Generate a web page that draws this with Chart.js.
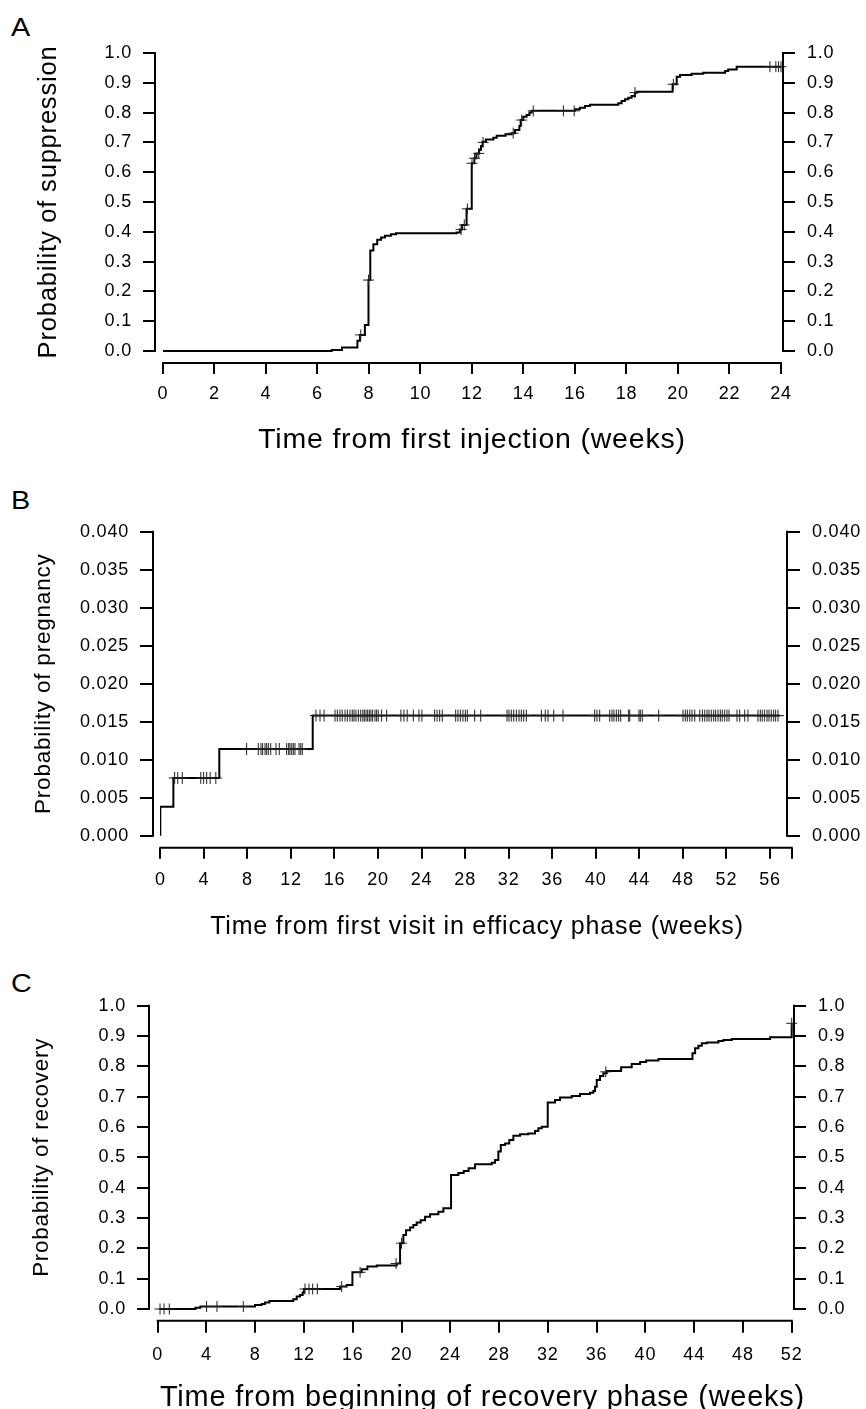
<!DOCTYPE html>
<html><head><meta charset="utf-8">
<script src="https://cdn.jsdelivr.net/npm/chart.js@4.4.1/dist/chart.umd.min.js"></script>
<style>
html,body{margin:0;padding:0;background:#fff;}
body{width:866px;height:1409px;overflow:hidden;position:relative;}
canvas{position:absolute;left:0;display:block;}
.lbl{position:absolute;left:11px;font:25px/1 'Liberation Sans',Arial,sans-serif;color:#000;transform:scaleX(1.15);transform-origin:0 0;}
</style></head><body>
<div class="lbl" style="top:15px">A</div>
<div class="lbl" style="top:488px">B</div>
<div class="lbl" style="top:971px">C</div>
<canvas id="cA" width="866" height="470" style="top:0px"></canvas>
<canvas id="cB" width="866" height="470" style="top:470px"></canvas>
<canvas id="cC" width="866" height="500" style="top:940px"></canvas>
<script>
const FONT = "'Liberation Sans', Arial, Helvetica, sans-serif";

// ---------------- Panel A : probability of suppression ----------------
const timesA = [0, 6.55, 6.95, 7.55, 7.65, 7.84, 7.98, 8.05, 8.17, 8.32, 8.47, 8.62, 8.85, 9.05,
  11.40, 11.53, 11.61, 11.79, 11.99, 12.09, 12.17, 12.28, 12.35, 12.41, 12.54, 12.83, 12.96, 13.3,
  13.54, 13.67, 13.84, 13.89, 13.99, 14.12, 14.23, 14.32, 16.0, 16.19, 16.39, 16.58, 17.68, 17.81,
  17.94, 18.07, 18.2, 18.33, 18.4, 19.79, 19.95, 20.08, 20.53, 20.98, 21.83, 21.95, 22.28, 24.0];
const probA = [0, 0.003, 0.012, 0.034, 0.054, 0.087, 0.238, 0.337, 0.358, 0.373, 0.381, 0.387, 0.392, 0.395,
  0.398, 0.408, 0.423, 0.477, 0.63, 0.647, 0.663, 0.675, 0.688, 0.702, 0.71, 0.716, 0.722, 0.727,
  0.731, 0.742, 0.755, 0.775, 0.786, 0.792, 0.80, 0.806, 0.811, 0.816, 0.822, 0.826, 0.831, 0.839,
  0.845, 0.85, 0.856, 0.867, 0.87, 0.895, 0.92, 0.926, 0.93, 0.934, 0.94, 0.945, 0.954, 0.954];
const censorTimesA = [7.68, 7.98, 11.58, 11.7, 11.82, 12.0, 12.1, 12.26, 12.43, 13.6, 13.93, 14.38,
  15.55, 15.97, 18.33, 19.82, 23.57, 23.8, 23.9, 24.0];
const censorProbA = [0.054, 0.238, 0.408, 0.423, 0.477, 0.63, 0.647, 0.663, 0.70, 0.731, 0.775, 0.806,
  0.806, 0.806, 0.867, 0.895, 0.954, 0.954, 0.954, 0.954];
const xTicksA = [0, 2, 4, 6, 8, 10, 12, 14, 16, 18, 20, 22, 24];
const xLabelsA = ['0', '2', '4', '6', '8', '10', '12', '14', '16', '18', '20', '22', '24'];
const yTicksA = [0, 0.1, 0.2, 0.3, 0.4, 0.5, 0.6, 0.7, 0.8, 0.9, 1.0];

// ---------------- Panel B : probability of pregnancy ----------------
const timesB = [0, 0, 1.2, 5.42, 14.0, 56.9];
const probB = [0, 0.0038, 0.0076, 0.0114, 0.0158, 0.0158];
const censorLevelsB = [0.0076, 0.0114, 0.0158];
const censorTimesB1 = [1.32, 1.6, 2.02, 3.72, 3.98, 4.26, 4.58, 5.1];
const censorTimesB2 = [7.93, 9.0, 9.25, 9.4, 9.62, 9.77, 9.92, 10.14, 10.63, 10.93, 11.61, 11.79,
  11.91, 12.07, 12.22, 12.37, 12.74, 12.9, 13.04];
const censorTimesB3 = [14.3, 14.67, 15.04, 16.05, 16.26, 16.5, 16.71, 16.97, 17.18, 17.42, 17.63,
  17.79, 17.97, 18.19, 18.41, 18.6, 18.74, 18.9, 19.05, 19.2, 19.35, 19.5, 19.72, 19.87, 20.02,
  20.33, 20.79, 22.1, 22.38, 22.68, 23.24, 23.76, 24.03, 25.2, 25.42, 25.66, 25.9, 27.13, 27.34,
  27.56, 27.8, 28.02, 28.2, 28.88, 29.43, 31.85, 32.03, 32.24, 32.46, 32.7, 32.95, 33.16, 33.38,
  33.62, 35.0, 35.36, 35.61, 36.14, 36.99, 39.9, 40.11, 40.36, 41.28, 41.49, 41.67, 41.89, 42.1,
  42.29, 43.02, 43.12, 43.97, 44.09, 44.27, 45.78, 48.01, 48.22, 48.41, 48.63, 48.84, 49.09, 49.55,
  49.79, 50.01, 50.22, 50.4, 50.61, 50.83, 51.01, 51.23, 51.44, 51.62, 51.84, 52.05, 52.24, 52.97,
  53.22, 53.68, 53.98, 54.9, 55.11, 55.29, 55.51, 55.73, 55.91, 56.12, 56.34, 56.52, 56.74];
const xTicksB = [0, 4, 8, 12, 16, 20, 24, 28, 32, 36, 40, 44, 48, 52, 56, 58];
const xLabelsB = ['0', '4', '8', '12', '16', '20', '24', '28', '32', '36', '40', '44', '48', '52', '56', ''];
const yTicksB = [0, 0.005, 0.010, 0.015, 0.020, 0.025, 0.030, 0.035, 0.040];

// ---------------- Panel C : probability of recovery ----------------
const timesC = [0, 3.1, 3.5, 7.98, 8.53, 8.8, 9.16, 11.12, 11.4, 11.67, 11.89, 12.0, 14.96, 15.5,
  15.97, 16.73, 17.2, 17.97, 19.6, 19.88, 20.15, 20.37, 20.7, 20.97, 21.24, 21.57, 21.93, 22.34,
  23.02, 23.43, 24.06, 24.66, 25.1, 25.5, 26.03, 27.4, 27.67, 27.94, 28.14, 28.49, 28.84, 29.17,
  29.72, 30.4, 30.95, 31.22, 31.5, 31.99, 32.59, 33.0, 33.96, 34.64, 35.46, 35.73, 35.87, 36.01,
  36.28, 36.55, 36.83, 38.01, 38.88, 39.57, 40.06, 41.07, 43.86, 44.08, 44.35, 44.63, 45.04, 45.99,
  46.4, 47.09, 50.23, 52.0];
const probC = [0, 0.004, 0.008, 0.013, 0.0165, 0.021, 0.026, 0.032, 0.041, 0.046, 0.054, 0.066, 0.074, 0.079,
  0.121, 0.131, 0.14, 0.143, 0.15, 0.217, 0.244, 0.26, 0.269, 0.277, 0.285, 0.293, 0.304, 0.312,
  0.321, 0.332, 0.442, 0.448, 0.455, 0.464, 0.477, 0.482, 0.491, 0.519, 0.541, 0.546, 0.557, 0.571,
  0.576, 0.579, 0.587, 0.596, 0.601, 0.681, 0.689, 0.697, 0.702, 0.709, 0.713, 0.719, 0.733, 0.755,
  0.768, 0.777, 0.785, 0.797, 0.808, 0.814, 0.819, 0.824, 0.843, 0.86, 0.868, 0.876, 0.879, 0.884,
  0.887, 0.89, 0.896, 0.942];
const censorTimesC = [0.19, 0.52, 0.95, 4.01, 4.86, 7.02, 12.08, 12.41, 12.71, 13.09, 15.09, 16.6,
  19.55, 20.0, 36.75, 52.0];
const censorProbC = [0, 0, 0, 0.008, 0.008, 0.008, 0.066, 0.066, 0.066, 0.066, 0.074, 0.121,
  0.15, 0.217, 0.782, 0.942];
const xTicksC = [0, 4, 8, 12, 16, 20, 24, 28, 32, 36, 40, 44, 48, 52];
const xLabelsC = ['0', '4', '8', '12', '16', '20', '24', '28', '32', '36', '40', '44', '48', '52'];
const yTicksC = [0, 0.1, 0.2, 0.3, 0.4, 0.5, 0.6, 0.7, 0.8, 0.9, 1.0];

// ---------------- helpers ----------------
const spacingPlugin = {
  id: 'spacing',
  beforeUpdate(c) { c.ctx.letterSpacing = '0.8px'; },
  beforeDraw(c) { c.ctx.letterSpacing = '0.8px'; }
};
const titleShiftPlugin = {
  id: 'titleShift',
  afterLayout(chart, args, o) {
    const s = chart.scales.x;
    s.left += o.dx; s.right += o.dx;
  }
};
const axisLinesPlugin = {
  id: 'axisLines',
  afterDraw(chart, args, o) {
    const { ctx, chartArea: a, scales } = chart;
    const x = scales.x, y = scales.y;
    ctx.save();
    ctx.strokeStyle = '#000';
    ctx.lineWidth = 2;
    ctx.lineCap = 'square';
    const y0 = y.getPixelForValue(o.yLo), y1 = y.getPixelForValue(o.yHi);
    const x0 = x.getPixelForValue(o.xLo), x1 = x.getPixelForValue(o.xHi);
    ctx.beginPath();
    ctx.moveTo(a.left, y0); ctx.lineTo(a.left, y1);
    ctx.moveTo(a.right, y0); ctx.lineTo(a.right, y1);
    ctx.moveTo(x0, a.bottom); ctx.lineTo(x1, a.bottom);
    ctx.stroke();
    ctx.restore();
  }
};

function makeChart(id, c) {
  const lineData = c.times.map((t, i) => ({ x: t, y: c.probs[i] }));
  const yScale = (pos) => ({
    type: 'linear', position: pos, min: c.yMin, max: c.yMax,
    afterBuildTicks: s => { s.ticks = c.yTicks.map(v => ({ value: v })); },
    afterFit: s => { s.width = pos === 'left' ? c.left : 866 - c.right; },
    border: { display: false },
    grid: { drawOnChartArea: false, drawTicks: true, tickLength: c.yTickLen, color: '#000', lineWidth: 2 },
    ticks: { font: { family: FONT, size: 18 }, color: '#000', padding: pos === 'left' ? 11 : 12,
      callback: v => v.toFixed(c.yDec) },
    title: pos === 'left'
      ? { display: true, text: c.yTitle, color: '#000',
          font: { family: FONT, size: c.yTitleSize, lineHeight: 1 }, padding: { top: c.yTitlePad, bottom: 0 } }
      : { display: false }
  });
  return new Chart(document.getElementById(id), {
    type: 'line',
    data: {
      datasets: [
        { data: c.censor, showLine: false, pointStyle: 'cross', pointRadius: c.crossR, pointHoverRadius: c.crossR,
          borderColor: '#222', backgroundColor: '#222', borderWidth: 1, clip: false },
        { data: lineData, stepped: true, borderColor: '#000', borderWidth: 2, pointRadius: 0,
          fill: false, tension: 0 }
      ]
    },
    options: {
      responsive: false, animation: false, devicePixelRatio: 1, events: [],
      layout: { padding: { top: c.top, left: 0, right: 0, bottom: 0 } },
      plugins: { legend: { display: false }, tooltip: { enabled: false },
        titleShift: { dx: c.titleDx },
        axisLines: { xLo: c.xTicks[0], xHi: c.xTicks[c.xTicks.length - 1],
          yLo: c.yTicks[0], yHi: c.yTicks[c.yTicks.length - 1] } },
      scales: {
        x: {
          type: 'linear', position: 'bottom', min: c.xMin, max: c.xMax,
          afterBuildTicks: s => { s.ticks = c.xTicks.map(v => ({ value: v })); },
          afterFit: s => { s.height = c.xAxisH; },
          border: { display: false },
          grid: { drawOnChartArea: false, drawTicks: true, tickLength: c.xTickLen, color: '#000', lineWidth: 2 },
          ticks: { font: { family: FONT, size: 18 }, color: '#000', padding: c.xLabelPad,
            autoSkip: false, maxRotation: 0, minRotation: 0, callback: (v, i) => c.xLabels[i] },
          title: { display: true, text: c.xTitle, color: '#000',
            font: { family: FONT, size: c.xTitleSize, lineHeight: 1 }, padding: { top: 0, bottom: c.xTitlePad } }
        },
        y: yScale('left'),
        y2: yScale('right')
      }
    },
    plugins: [spacingPlugin, titleShiftPlugin, axisLinesPlugin]
  });
}

makeChart('cA', {
  times: timesA, probs: probA,
  censor: censorTimesA.map((t, i) => ({ x: t, y: censorProbA[i] })), crossR: 5.5,
  xTicks: xTicksA, xLabels: xLabelsA, yTicks: yTicksA, yDec: 1,
  xMin: -0.3107, xMax: 24.078, yMin: -0.0403, yMax: 1.0403,
  left: 155, right: 783, top: 41, xAxisH: 107, yTickLen: 12, xTickLen: 11, xLabelPad: 9,
  yTitle: 'Probability of suppression', yTitleSize: 25.5, yTitlePad: 36,
  xTitle: 'Time from first injection (weeks)', xTitleSize: 28.5, xTitlePad: 15.5, titleDx: 3
});

makeChart('cB', {
  times: timesB, probs: probB,
  censor: [].concat(
    censorTimesB1.map(t => ({ x: t, y: censorLevelsB[0] })),
    censorTimesB2.map(t => ({ x: t, y: censorLevelsB[1] })),
    censorTimesB3.map(t => ({ x: t, y: censorLevelsB[2] }))), crossR: 6,
  xTicks: xTicksB, xLabels: xLabelsB, yTicks: yTicksB, yDec: 3,
  xMin: -0.6705, xMax: 57.564, yMin: -0.00158, yMax: 0.04158,
  left: 153, right: 787, top: 49.7, xAxisH: 92.3, yTickLen: 13, xTickLen: 11, xLabelPad: 11,
  yTitle: 'Probability of pregnancy', yTitleSize: 22.5, yTitlePad: 33,
  xTitle: 'Time from first visit in efficacy phase (weeks)', xTitleSize: 25, xTitlePad: 0.5, titleDx: 7
});

makeChart('cC', {
  times: timesC, probs: probC,
  censor: censorTimesC.map((t, i) => ({ x: t, y: censorProbC[i] })), crossR: 5.5,
  xTicks: xTicksC, xLabels: xLabelsC, yTicks: yTicksC, yDec: 1,
  xMin: -0.714, xMax: 52.19, yMin: -0.0386, yMax: 1.0386,
  left: 149, right: 794, top: 54, xAxisH: 119.3, yTickLen: 12, xTickLen: 12, xLabelPad: 12,
  yTitle: 'Probability of recovery', yTitleSize: 22.3, yTitlePad: 30.5,
  xTitle: 'Time from beginning of recovery phase (weeks)', xTitleSize: 29, xTitlePad: 27.5, titleDx: 11
});
</script>
</body></html>
